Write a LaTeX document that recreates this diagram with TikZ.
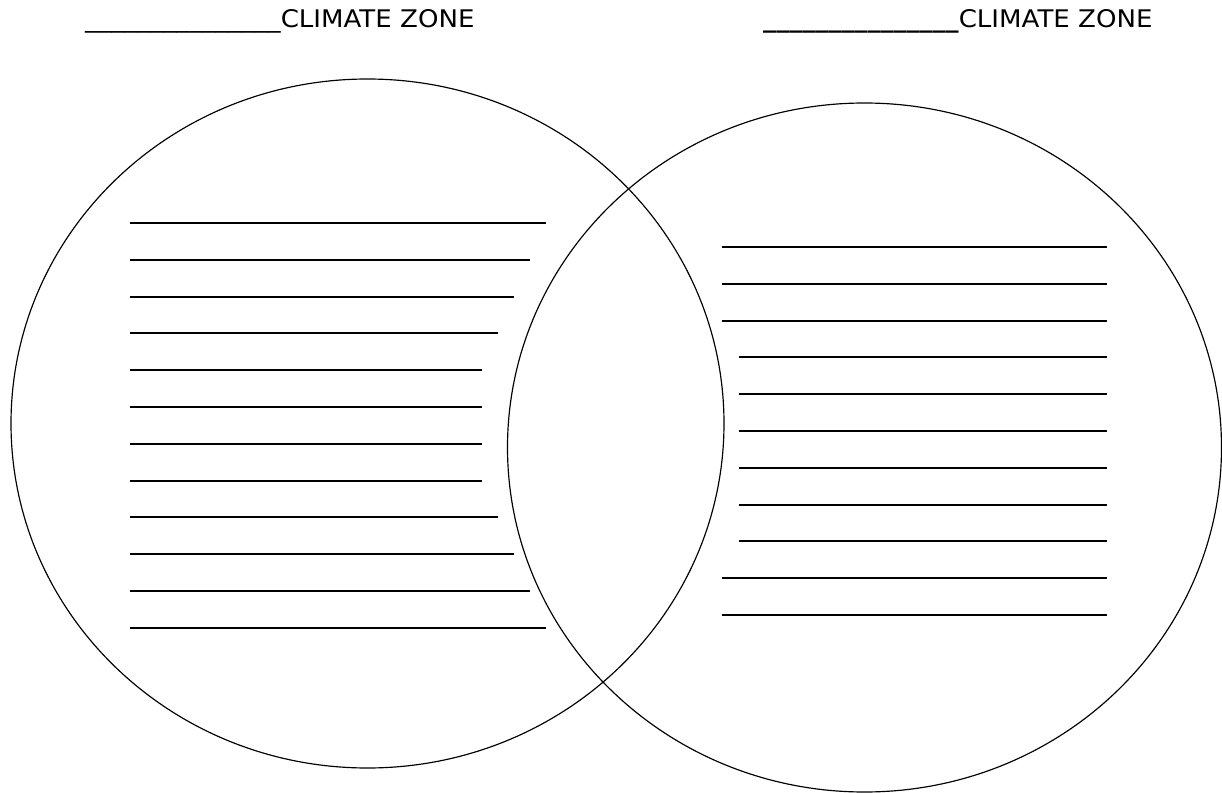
\documentclass[tikz,border=0pt]{standalone}
\usepackage{fontspec}
\newfontfamily\zonefont[FakeStretch=1.075]{DejaVu Sans}
\tikzstyle{zonetitle} = [
    inner sep=0pt,
    anchor=base west,
    font=\zonefont\fontsize{20.7}{24}\selectfont
]
\tikzstyle{zone} = [line width=1pt]
\tikzstyle{writeline} = [line width=1pt]

\begin{document}
\begin{tikzpicture}[x=0.03cm, y=-0.03cm]

\useasboundingbox (0,0) rectangle (1222,793);

\node (lefttitle) [zonetitle] at (85,28)
{\_\_\_\_\_\_\_\_\_\_\_\_\_\_\_CLIMATE ZONE};

\node (righttitle) [zonetitle] at (763,28)
{{\bfseries\_\_\_\_\_\_\_\_\_\_\_\_\_\_\_}CLIMATE ZONE};

\draw [zone] (367.5,423.5) ellipse [x radius=356.5, y radius=344.5];
\draw [zone] (864.5,447.5) ellipse [x radius=357, y radius=344.5];

% left zone
\draw [writeline] (130,223) -- (546,223);
\draw [writeline] (130,260) -- (530,260);
\draw [writeline] (130,297) -- (514,297);
\draw [writeline] (130,333) -- (498,333);
\draw [writeline] (130,370) -- (482,370);
\draw [writeline] (130,407) -- (482,407);
\draw [writeline] (130,444) -- (482,444);
\draw [writeline] (130,481) -- (482,481);
\draw [writeline] (130,517) -- (498,517);
\draw [writeline] (130,554) -- (514,554);
\draw [writeline] (130,591) -- (530,591);
\draw [writeline] (130,628) -- (546,628);

% right zone
\draw [writeline] (722,247) -- (1107,247);
\draw [writeline] (722,284) -- (1107,284);
\draw [writeline] (722,321) -- (1107,321);
\draw [writeline] (739,357) -- (1107,357);
\draw [writeline] (739,394) -- (1107,394);
\draw [writeline] (739,431) -- (1107,431);
\draw [writeline] (739,468) -- (1107,468);
\draw [writeline] (739,505) -- (1107,505);
\draw [writeline] (739,541) -- (1107,541);
\draw [writeline] (722,578) -- (1107,578);
\draw [writeline] (722,615) -- (1107,615);

\end{tikzpicture}
\end{document}
